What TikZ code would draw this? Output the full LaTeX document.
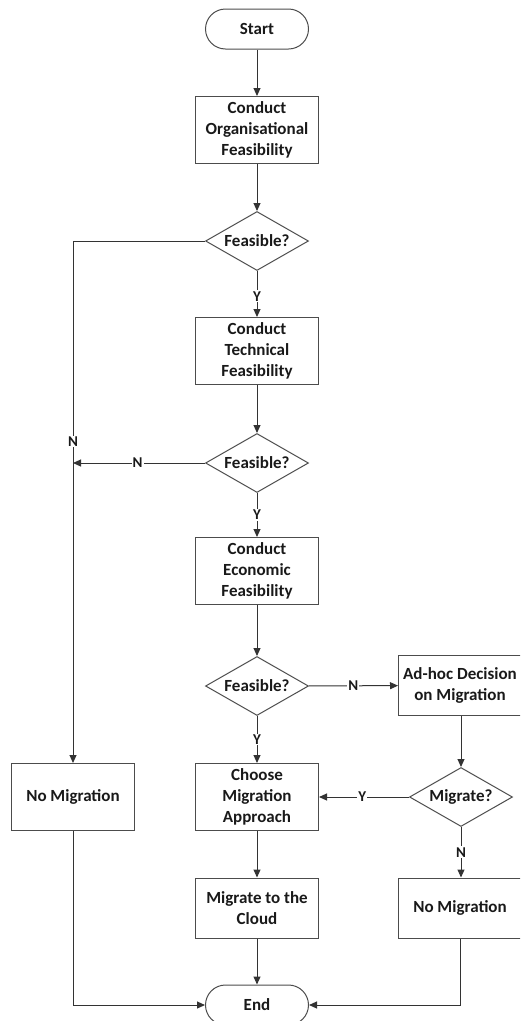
\documentclass[tikz,border=0pt]{standalone}
\usepackage{fontspec}
\setmainfont{Carlito}
\usetikzlibrary{shapes.geometric,arrows.meta}
\begin{document}
\begin{tikzpicture}[x=1pt,y=-1pt,
  every node/.style={font=\fontsize{17}{21}\selectfont\bfseries, text=black!90},
  base/.style={draw=black!70, line width=1pt, align=center, inner sep=2pt},
  proc/.style={base, rectangle, minimum width=123pt, minimum height=67pt},
  proctwo/.style={base, rectangle, minimum width=123pt, minimum height=60pt},
  term/.style={base, rectangle, rounded corners=20pt, minimum width=103pt, minimum height=40pt},
  dec/.style={base, diamond, aspect=1.75, inner sep=0pt, minimum width=103pt, minimum height=59pt},
  arr/.style={draw=black!80, line width=1pt, -{Triangle[length=8pt,width=7pt]}},
  lbl/.style={fill=white, inner sep=1pt, font=\fontsize{15}{18}\selectfont\bfseries}]
\clip (0,0) rectangle (520,1021);
\useasboundingbox (0,0) rectangle (520,1021);

\node[term] (start) at (257,29) {Start};
\node[proc] (p1) at (257,130) {Conduct\\Organisational\\Feasibility};
\node[dec] (d1) at (257,241) {Feasible?};
\node[proc] (p2) at (257,351) {Conduct\\Technical\\Feasibility};
\node[dec] (d2) at (257,463) {Feasible?};
\node[proc] (p3) at (257,571) {Conduct\\Economic\\Feasibility};
\node[dec] (d3) at (257,686) {Feasible?};
\node[proctwo] (adhoc) at (460,685.5) {Ad-hoc Decision\\on Migration};
\node[dec] (mig) at (461,797) {Migrate?};
\node[proc] (choose) at (257,797) {Choose\\Migration\\Approach};
\node[proc] (nomigA) at (73,797) {No Migration};
\node[proctwo] (cloud) at (257,908) {Migrate to the\\Cloud};
\node[proctwo] (nomigB) at (460,908) {No Migration};
\node[term] (end) at (257,1005) {End};

\draw[arr] (start) -- (p1);
\draw[arr] (p1) -- (d1);
\draw[arr] (d1) -- node[lbl, pos=0.55] {Y} (p2);
\draw[arr] (p2) -- (d2);
\draw[arr] (d2) -- node[lbl, pos=0.5] {Y} (p3);
\draw[arr] (p3) -- (d3);
\draw[arr] (d3) -- node[lbl] {N} (adhoc);
\draw[arr] (d3) -- node[lbl] {Y} (choose);
\draw[arr] (adhoc.south -| mig.north) -- (mig.north);
\draw[arr] (mig) -- node[lbl, pos=0.52] {Y} (choose);
\draw[arr] (mig.south) -- node[lbl] {N} (nomigB.north -| mig.south);
\draw[arr] (choose) -- (cloud);
\draw[arr] (cloud) -- (end);
\draw[arr] (d1.west) -| node[lbl, pos=0.692] {N} (nomigA.north);
\coordinate (j) at (nomigA.north |- d2.west);
\draw[arr] (d2.west) -- node[lbl, pos=0.51] {N} (j);
\draw[arr] (nomigA.south) |- (end.west);
\draw[arr] (nomigB.south) |- (end.east);
\end{tikzpicture}
\end{document}
